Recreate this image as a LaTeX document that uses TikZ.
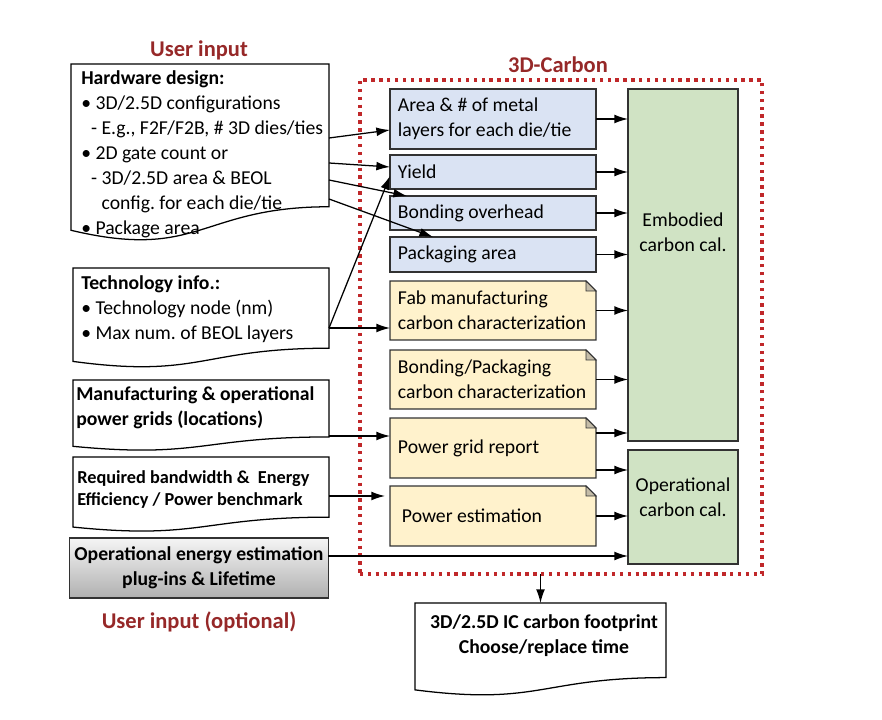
\documentclass[tikz,border=0pt]{standalone}
\usepackage{fontspec}
\setmainfont{Carlito}
\usetikzlibrary{calc,arrows.meta}
\frenchspacing

\definecolor{titlered}{RGB}{150,40,40}
\definecolor{dotred}{RGB}{192,40,42}
\definecolor{boxblue}{RGB}{218,227,243}
\definecolor{noteyellow}{RGB}{255,242,204}
\definecolor{calcgreen}{RGB}{208,227,196}
\definecolor{foldgray}{RGB}{196,188,168}
\definecolor{edgegray}{RGB}{50,50,50}

\newcommand{\figfont}{\fontsize{14}{17.8}\selectfont}
\newcommand{\smallfigfont}{\fontsize{13}{15.6}\selectfont}
\newcommand{\titlefont}{\fontsize{16}{19}\selectfont\bfseries}

\tikzset{
	arr/.style={-{Latex[length=3.4mm,width=2.2mm]}, line width=0.9pt},
	docnode/.style={draw=none, outer sep=0pt, inner sep=0pt},
	docline/.style={draw=black, line width=0.9pt, fill=white},
	bluebox/.style={draw=edgegray, fill=boxblue, line width=0.8pt, outer sep=0pt, minimum width=5.15cm, text width=4.75cm, inner xsep=0.2cm, align=flush left, font=\figfont},
	notebox/.style={fill=noteyellow, outer sep=0pt, minimum width=5.15cm, text width=4.75cm, inner xsep=0.2cm, align=flush left, font=\figfont},
	calcbox/.style={draw=edgegray, fill=calcgreen, line width=0.8pt, outer sep=0pt, minimum width=2.75cm},
	intext/.style={anchor=north west, inner sep=0pt, align=left, font=\figfont},
	titletext/.style={text=titlered, font=\titlefont},
}

% document outline with a wavy bottom
\newcommand{\docframe}[1]{%
	\draw[docline] (#1.north west) -- (#1.north east)
		-- ($(#1.north east)!0.802!(#1.south east)$)
		.. controls ($(#1.north)!0.802!(#1.south)$) and ($(#1.north)!1.107!(#1.south)$)
		.. ($(#1.north west)!0.934!(#1.south west)$) -- cycle;}

% note outline with a folded corner
\newcommand{\noteframe}[1]{%
	\fill[white] ([xshift=-0.25cm]#1.north east) -- (#1.north east) -- ([yshift=-0.25cm]#1.north east) -- cycle;
	\draw[draw=edgegray, line width=0.8pt] (#1.north west) -- ([xshift=-0.25cm]#1.north east)
		-- ([yshift=-0.25cm]#1.north east) -- (#1.south east) -- (#1.south west) -- cycle;
	\draw[draw=edgegray, line width=0.6pt, fill=foldgray] ([xshift=-0.25cm]#1.north east)
		-- ([xshift=-0.25cm,yshift=-0.25cm]#1.north east) -- ([yshift=-0.25cm]#1.north east) -- cycle;}

\begin{document}
\begin{tikzpicture}[x=0.025cm, y=-0.025cm]
	\useasboundingbox (0,0) rectangle (882,720);
	
	% Draw the 3D-Carbon frame
	\node[draw=dotred, line width=2.4pt, dash pattern=on 2.4pt off 3.2pt, minimum width=10.05cm, minimum height=12.35cm, outer sep=0pt] (carbon) at (561,327) {};
	\node[titletext] (cartitle) at (558,65) {3D-Carbon};
	
	% Draw the user input documents
	\node[docnode, minimum width=6.45cm, minimum height=4.45cm] (hw) at (200,153) {};
	\node[docnode, minimum width=6.4cm, minimum height=2.5cm] (tech) at (201,318) {};
	\node[docnode, minimum width=6.4cm, minimum height=1.775cm] (grids) at (201,415.5) {};
	\node[docnode, minimum width=6.4cm, minimum height=1.875cm] (bw) at (201,494.5) {};
	\node[docnode, minimum width=6.275cm, minimum height=2.325cm] (out) at (540.5,649.5) {};
	\foreach \doc in {hw,tech,grids,bw,out} {
		\docframe{\doc}
	}
	
	% Draw the text of the documents
	\node[intext] (hwtxt) at (81,70) {\textbf{Hardware design:}\\
		\textbullet\ 3D/2.5D configurations\\
		\hspace*{0.5em}- E.g., F2F/F2B, \# 3D dies/ties\\
		\textbullet\ 2D gate count or\\
		\hspace*{0.5em}- 3D/2.5D area \& BEOL\\
		\hspace*{0.5em}\phantom{- }config. for each die/tie\\
		\textbullet\ Package area};
	\node[intext] (techtxt) at (81,275) {\textbf{Technology info.:}\\
		\textbullet\ Technology node (nm)\\
		\textbullet\ Max num. of BEOL layers};
	\node[intext, font=\figfont\bfseries] (gridstxt) at (76,386) {Manufacturing \& operational\\power grids (locations)};
	\node[intext, font=\smallfigfont\bfseries] (bwtxt) at (77,470) {Required bandwidth \&\ \ Energy\\Efficiency / Power benchmark};
	\node[align=center, font=\figfont\bfseries] (outtxt) at (544,635.5) {3D/2.5D IC carbon footprint\\Choose/replace time};
	
	% Draw the optional plug-in box
	\node[draw=edgegray, line width=0.8pt, top color=gray!8, bottom color=gray!62, minimum width=6.4cm, minimum height=1.5cm, align=center, font=\figfont\bfseries, outer sep=0pt] (plug) at (199,568) {Operational energy estimation\\plug-ins \& Lifetime};
	
	% Draw the titles
	\node[titletext] (usertitle) at (199,50) {User input};
	\node[titletext] (opttitle) at (199,622) {User input (optional)};
	
	% Draw the blue boxes
	\node[bluebox, minimum height=1.5cm] (area) at (493,119) {Area \& \# of metal\\layers~for~each~die/tie};
	\node[bluebox, minimum height=0.85cm] (yield) at (493,172) {Yield};
	\node[bluebox, minimum height=0.85cm] (bond) at (493,213) {Bonding overhead};
	\node[bluebox, minimum height=0.875cm] (pack) at (493,254.5) {Packaging area};
	
	% Draw the notes
	\node[notebox, minimum height=1.475cm] (fab) at (493,310.5) {Fab manufacturing\\carbon~characterization};
	\node[notebox, minimum height=1.475cm] (bpk) at (493,379.5) {Bonding/Packaging\\carbon~characterization};
	\node[notebox, minimum height=1.5cm] (grid) at (493,448) {Power grid report};
	\node[notebox, minimum height=1.5cm] (pest) at (493,516) {\hspace*{0.1cm}Power estimation};
	\foreach \n in {fab,bpk,grid,pest} {
		\noteframe{\n}
	}
	
	% Draw the carbon calculators
	\node[calcbox, minimum height=8.8cm] (emb) at (683,265) {};
	\node[calcbox, minimum height=2.85cm] (opc) at (683,507) {};
	\node[align=center, font=\figfont] (embtxt) at (683,232.5) {Embodied\\carbon cal.};
	\node[align=center, font=\figfont] (opctxt) at (683,497.5) {Operational\\carbon cal.};
	
	% Draw the arrows from the inputs
	\draw[arr] ([yshift=0.375cm]hw.east) -- ([yshift=-0.275cm]area.west);
	\draw[arr] ([yshift=-0.25cm]hw.east) -- ([yshift=0.125cm]yield.west);
	\draw[arr] ([yshift=-0.675cm]hw.east) -- ([xshift=0.425cm]bond.north west);
	\draw[arr] ([yshift=-1.15cm]hw.east) -- ([xshift=1.075cm]pack.north west);
	\coordinate (techout) at ([yshift=-0.25cm]tech.east);
	\draw[arr] (techout) -- ([yshift=-0.1cm]yield.west);
	\draw[arr] (techout) -- (techout -| fab.west);
	\coordinate (gridin) at ([yshift=0.3cm]grid.west);
	\draw[arr] (gridin -| grids.east) -- (gridin);
	\coordinate (pestin) at ([xshift=-0.125cm,yshift=0.5cm]pest.west);
	\draw[arr] (pestin -| bw.east) -- (pestin);
	\coordinate (opcin) at ([yshift=-1.225cm]opc.west);
	\draw[arr] (opcin -| plug.east) -- (opcin);
	
	% Draw the arrows into the calculators
	\foreach \b in {area,yield,bond,pack,fab,bpk} {
		\draw[arr] (\b.east) -- (\b.east -| emb.west);
	}
	\coordinate (gridhi) at ([yshift=0.375cm]grid.east);
	\coordinate (gridlo) at ([yshift=-0.55cm]grid.east);
	\draw[arr] (gridhi) -- (gridhi -| emb.west);
	\draw[arr] (gridlo) -- (gridlo -| opc.west);
	\draw[arr] (pest.east) -- (pest.east -| opc.west);
	
	% Draw the output arrow
	\draw[arr] (out.north |- carbon.south) -- (out.north);
	
\end{tikzpicture}
\end{document}
